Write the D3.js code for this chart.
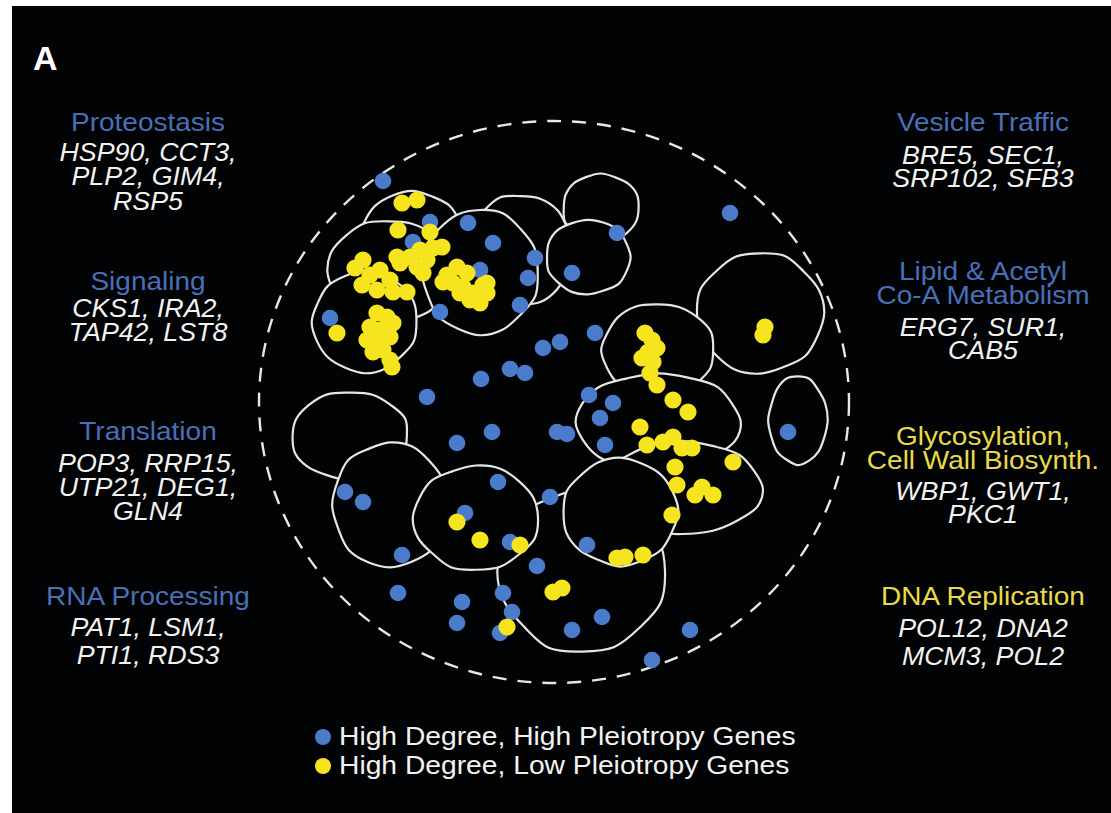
<!DOCTYPE html>
<html>
<head>
<meta charset="utf-8">
<script src="https://cdn.jsdelivr.net/npm/d3@7"></script>
<style>
  html, body { margin: 0; padding: 0; background: #ffffff; }
  svg { display: block; }
</style>
</head>
<body>
<svg id="chart" width="1111" height="813"></svg>
<script>
// ---- Embedding layout: positions in map units (0..600 x 0..560) ----

// Functional-module outlines: centre and half-widths in map units, back to front
const moduleNames = ["DNA Replication", "Proteostasis-a", "Vesicle-a", "Proteostasis-b", "Vesicle-b", "Signaling",
  "Vesicle-c", "Vesicle-d", "Lipid", "Lipid-b", "Glyco-a", "Glyco-b", "Glyco-c", "Glyco-d",
  "Translation-a", "Translation-b", "RNA Processing"];
const moduleCx = [328, 158, 266, 134, 226, 111, 347, 334, 506, 544, 404, 404, 428, 366, 96, 136, 222];
const moduleCy = [449, 118, 128, 150, 150, 200,  86, 135, 191, 298, 228, 300, 366, 390, 314, 383, 396];
const moduleRx = [ 83,  52,  52,  60,  58,  52,  38,  42,  63,  29,  56,  82,  80,  57,  58,  57,  62];
const moduleRy = [ 81,  48,  55,  52,  62,  50,  34,  37,  60,  44,  46,  48,  46,  53,  44,  62,  52];

// High degree, high pleiotropy genes
const highPleioX = [129,176,214,239,281,274,266,186, 76,226,159,363,318,476,341,306,289,256,271,227,173,238,203,303,313, 91,109,148,244,296,211,256,283,335,359,346,351,333,534,144,208,203,249,258,246,348,318,436,398];
const highPleioY = [ 59,100,101,121,136,156,183,190,196,148,120,111,151, 91,211,220,226,247,251,257,275,310,321,310,312,370,380,433,360,375,391,420,444,273,281,296,323,423,310,471,480,501,471,490,511,495,508,508,538];

// High degree, low pleiotropy genes
const lowPleioX = [148,163,144,176,109,101,116,108,126,136,123,139,153,146,156,166,179,188,163,173,169,143,
  193,203,213,199,209,219,229,233,226,216,206,189,233,
  123,133,139,116,126,136,113,123,129,119,136,138, 83,
  391,398,403,394,388,399,396,403,419,434,386,393,409,419,428,438,479,421,423,448,441,459,418,363,371,389,
  511,509, 203,226,266,299,308,253];
const lowPleioY = [ 81, 78,108,110,138,146,153,163,148,158,168,170,170,141,135,128,126,125,145,138,151,135,
  153,145,151,161,165,171,163,171,181,178,171,160,161,
  191,195,201,205,208,215,218,221,228,230,238,245,211,
  211,218,226,230,236,240,251,263,278,290,305,323,320,315,326,326,340,345,363,365,373,373,393,436,435,433,
  205,213, 400,418,423,470,466,505];

// Side annotations
const leftTitles  = ["Proteostasis", "Signaling", "Translation", "RNA Processing"];
const leftGenes   = [["HSP90, CCT3,", "PLP2, GIM4,", "RSP5"], ["CKS1, IRA2,", "TAP42, LST8"],
                     ["POP3, RRP15,", "UTP21, DEG1,", "GLN4"], ["PAT1, LSM1,", "PTI1, RDS3"]];
const rightTitles = [["Vesicle Traffic"], ["Lipid & Acetyl", "Co-A Metabolism"],
                     ["Glycosylation,", "Cell Wall Biosynth."], ["DNA Replication"]];
const rightGenes  = [["BRE5, SEC1,", "SRP102, SFB3"], ["ERG7, SUR1,", "CAB5"],
                     ["WBP1, GWT1,", "PKC1"], ["POL12, DNA2", "MCM3, POL2"]];
const rightTitleColor = ["blue", "blue", "yellow", "yellow"];
const legendLabels = ["High Degree, High Pleiotropy Genes", "High Degree, Low Pleiotropy Genes"];

// ---- Drawing ----
const W = 1111, H = 813;
const svg = d3.select("#chart");
const BLUE = "#4b7bcb", YELLOW = "#f6e51e";
const TITLE_BLUE = "#4a6fb8", TITLE_YELLOW = "#e8d94a";
const FONT = "'Liberation Sans', Arial, Helvetica, sans-serif";

svg.append("rect").attr("x", 12).attr("y", 6).attr("width", W - 12).attr("height", H - 6).attr("fill", "#020304");

const x = d3.scaleLinear().domain([0, 600]).range([254, 854]);
const y = d3.scaleLinear().domain([0, 560]).range([122, 682]);
const kx = (x(600) - x(0)) / 600, ky = (y(560) - y(0)) / 560;

// dashed boundary of the embedding
svg.append("ellipse")
  .attr("cx", x(300)).attr("cy", y(280))
  .attr("rx", 295 * kx).attr("ry", 281 * ky)
  .attr("fill", "none").attr("stroke", "#e8e8e8")
  .attr("stroke-width", 2.4).attr("stroke-dasharray", "14 11");

// hand-drawn looking module outlines
const wobble = [1.00, 1.025, 0.985, 1.015, 0.995, 1.03, 0.98, 1.01, 1.02, 0.99, 1.015, 0.975, 1.01, 1.025, 0.99, 1.005];
const line = d3.line().curve(d3.curveCatmullRomClosed.alpha(0.5));
const modules = moduleNames.map((name, i) => ({name, cx: moduleCx[i], cy: moduleCy[i], rx: moduleRx[i], ry: moduleRy[i], i}));
svg.append("g").selectAll("path").data(modules).join("path")
  .attr("d", m => {
    const n = wobble.length, pts = [];
    for (let k = 0; k < n; k++) {
      const a = 2 * Math.PI * k / n, f = wobble[(k + m.i * 5) % n];
      pts.push([x(m.cx) + m.rx * kx * f * Math.cos(a), y(m.cy) + m.ry * ky * f * Math.sin(a)]);
    }
    return line(pts);
  })
  .attr("fill", "#020304").attr("stroke", "#e6e6e6").attr("stroke-width", 2.2);

// genes
const highPts = highPleioX.map((v, i) => [v, highPleioY[i]]);
const lowPts = lowPleioX.map((v, i) => [v, lowPleioY[i]]);
svg.append("g").selectAll("circle").data(highPts).join("circle")
  .attr("cx", d => x(d[0])).attr("cy", d => y(d[1])).attr("r", 8.3).attr("fill", BLUE);
svg.append("g").selectAll("circle").data(lowPts).join("circle")
  .attr("cx", d => x(d[0])).attr("cy", d => y(d[1])).attr("r", 8.6).attr("fill", YELLOW);

// panel letter
svg.append("text").attr("x", 33).attr("y", 70).attr("fill", "#ffffff")
  .attr("font-family", FONT).attr("font-weight", "bold").attr("font-size", 34).text("A");

function stretchedText(g, tx, ty, str, opts) {
  return g.append("text")
    .attr("transform", `translate(${tx},${ty}) scale(${opts.sx},1)`)
    .attr("text-anchor", "middle")
    .attr("font-family", FONT)
    .attr("font-size", opts.size)
    .attr("font-style", opts.italic ? "italic" : "normal")
    .attr("fill", opts.color)
    .text(str);
}

const labels = svg.append("g");
const leftX = 148, rightX = 983;
const leftTitleY = [131, 290, 440, 605];
const leftGeneY = [[161, 185, 210], [317, 341], [472, 496, 520], [636, 664]];
const titleStyle = {sx: 1.12, size: 25};
const geneStyle = {sx: 1.05, size: 25.5, italic: true, color: "#f2f2f2"};
leftTitles.forEach((t, i) => {
  stretchedText(labels, leftX, leftTitleY[i], t, {...titleStyle, color: TITLE_BLUE});
  leftGenes[i].forEach((g, j) => stretchedText(labels, leftX, leftGeneY[i][j], g, geneStyle));
});
const rightTitleY = [[131], [280, 304], [445, 469], [605]];
const rightGeneY = [[164, 187], [336, 359], [500, 523], [637, 665]];
rightTitles.forEach((ts, i) => {
  ts.forEach((t, j) => stretchedText(labels, rightX, rightTitleY[i][j], t,
    {...titleStyle, color: rightTitleColor[i] === "blue" ? TITLE_BLUE : TITLE_YELLOW}));
  rightGenes[i].forEach((g, j) => stretchedText(labels, rightX, rightGeneY[i][j], g, geneStyle));
});

// legend
const legend = svg.append("g");
const legendColors = [BLUE, YELLOW];
legendLabels.forEach((t, i) => {
  const cy = 737 + i * 29;
  legend.append("circle").attr("cx", 323).attr("cy", cy).attr("r", 8).attr("fill", legendColors[i]);
  legend.append("text").attr("transform", `translate(339,${cy + 8}) scale(1.13,1)`)
    .attr("font-family", FONT).attr("font-size", 25).attr("fill", "#f2f2f2").text(t);
});
</script>
</body>
</html>
